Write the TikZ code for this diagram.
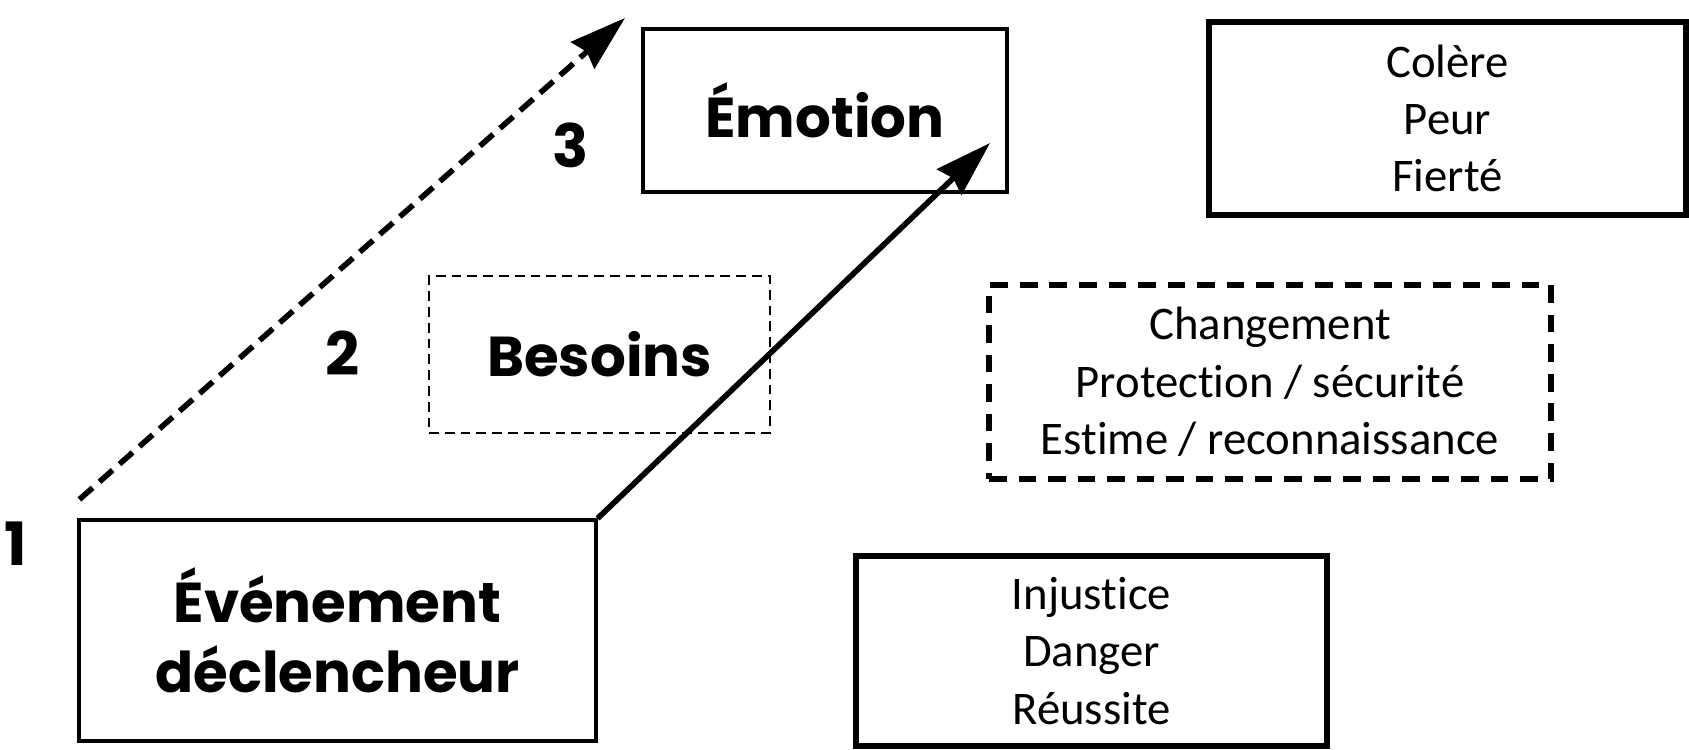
\documentclass[tikz,border=0pt]{standalone}
\usepackage{fontspec}
\setmainfont{Carlito}[Ligatures=NoCommon]
\newfontfamily\headfont{Poppins}
\usetikzlibrary{arrows.meta}

\begin{document}
\begin{tikzpicture}[
    stagebox/.style={draw, line width=0.9pt, align=center, inner sep=0pt,
      font=\headfont\bfseries\fontsize{16}{20}\selectfont},
    listbox/.style={draw, line width=1.5pt, align=center, inner sep=0pt,
      font=\fontsize{13.3}{16.3}\selectfont},
    stagenum/.style={font=\headfont\bfseries\fontsize{17}{20}\selectfont},
    bigarrow/.style={line width=1.6pt, -{Stealth[length=16pt,width=10pt,inset=1.5pt]}}
  ]
    \useasboundingbox (0,0) rectangle (16.89,7.49);
    % the three stages
    \node[stagebox, minimum width=5.17cm, minimum height=2.21cm] (event) at (3.375,1.185) {Événement\\déclencheur};
    \node[stagebox, line width=0.6pt, dash pattern=on 2.8pt off 1.7pt, minimum width=3.41cm, minimum height=1.57cm] (needs) at (5.995,3.945) {Besoins};
    \node[stagebox, minimum width=3.64cm, minimum height=1.63cm] (emotion) at (8.25,6.385) {Émotion};
    \node[stagenum] (num1) at (0.16,2.05) {1};
    \node[stagenum] (num2) at (3.43,3.96) {2};
    \node[stagenum] (num3) at (5.71,6.04) {3};
    \coordinate (dashtip) at (6.25,7.31);
    \coordinate (solidtip) at (9.90,6.06);
    \draw[bigarrow, dash pattern=on 5pt off 2.6pt] ([shift={(0.02,0.19)}]event.north west) -- (dashtip);
    \draw[bigarrow] (event.north east) -- (solidtip);
    % examples on the right
    \node[listbox, minimum width=4.77cm, minimum height=1.93cm] (feelings) at (14.475,6.305) {Colère\\Peur\\Fierté};
    \node[listbox, dash pattern=on 5pt off 3.4pt, minimum width=5.62cm, minimum height=1.94cm] (needlist) at (12.70,3.67) {Changement\\Protection / sécurité\\Estime / reconnaissance};
    \node[listbox, minimum width=4.71cm, minimum height=1.90cm] (triggers) at (10.915,0.98) {Injustice\\Danger\\Réussite};
\end{tikzpicture}
\end{document}
